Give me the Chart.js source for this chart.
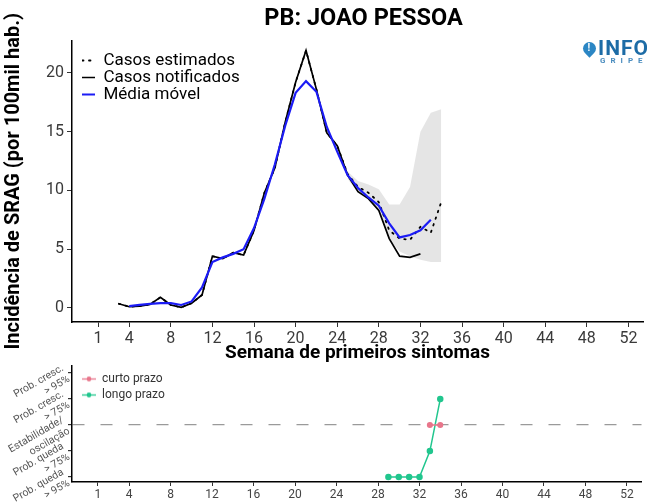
<!DOCTYPE html>
<html>
<head>
<meta charset="utf-8">
<script src="https://cdn.jsdelivr.net/npm/chart.js@4.4.0/dist/chart.umd.min.js"></script>
<style>
  html, body { margin: 0; padding: 0; background: #fff; overflow: hidden; }
  #wrap { position: relative; width: 647px; height: 504px; overflow: hidden; }
  #topChart { position: absolute; left: 0; top: 0; }
  #bottomChart { position: absolute; left: 0; top: 350px; }
  #logo { position: absolute; left: 582px; top: 40px; width: 80px; height: 26px; font-family: Roboto, sans-serif; }
  #logo .pin { position: absolute; left: 1px; top: 2px; width: 13px; height: 13px; background: #2b86c4;
    border-radius: 50% 50% 50% 0; transform: rotate(-45deg); }
  #logo .pin span { position: absolute; left: 0; top: 0; width: 13px; text-align: center; color: #fff;
    font: bold 10px Roboto, sans-serif; transform: rotate(45deg); }
  #logo .info { position: absolute; left: 16px; top: -4px; font: bold 21px Roboto, sans-serif; color: #1d6ca6; letter-spacing: 1px; }
  #logo .gripe { position: absolute; left: 18px; top: 16px; font: bold 8px Roboto, sans-serif; color: #4b8dbf; letter-spacing: 5px; }
</style>
</head>
<body>
<div id="wrap">
  <canvas id="topChart" width="647" height="366"></canvas>
  <canvas id="bottomChart" width="647" height="154"></canvas>
  <div id="logo"><div class="pin"><span>!</span></div><div class="info">INFO</div><div class="gripe">GRIPE</div></div>
</div>
<script>
// semanas epidemiologicas e valores
const weeksNotif = [3, 4, 5, 6, 7, 8, 9, 10, 11, 12, 13, 14, 15, 16, 17, 18, 19, 20, 21, 22, 23, 24, 25, 26, 27, 28, 29, 30, 31, 32];
const casosNotificados = [0.35, 0.1, 0.15, 0.3, 0.9, 0.25, 0.05, 0.4, 1.1, 4.4, 4.2, 4.7, 4.5, 6.6, 9.8, 11.9, 15.8, 19.2, 21.9, 18.6, 14.9, 13.8, 11.3, 9.9, 9.3, 8.3, 5.9, 4.4, 4.3, 4.6];

const weeksEst = [3, 4, 5, 6, 7, 8, 9, 10, 11, 12, 13, 14, 15, 16, 17, 18, 19, 20, 21, 22, 23, 24, 25, 26, 27, 28, 29, 30, 31, 32, 33, 34];
const casosEstimados = [0.35, 0.1, 0.15, 0.3, 0.9, 0.25, 0.05, 0.4, 1.1, 4.4, 4.2, 4.7, 4.5, 6.6, 9.8, 11.9, 15.8, 19.2, 21.9, 18.6, 14.9, 13.8, 11.4, 10.3, 9.8, 9.0, 6.6, 5.9, 5.8, 6.9, 6.4, 9.0];

const weeksMedia = [4, 5, 6, 7, 8, 9, 10, 11, 12, 13, 14, 15, 16, 17, 18, 19, 20, 21, 22, 23, 24, 25, 26, 27, 28, 29, 30, 31, 32, 33];
const mediaMovel = [0.15, 0.25, 0.35, 0.4, 0.4, 0.25, 0.55, 1.75, 3.9, 4.3, 4.6, 5.0, 6.8, 9.3, 12.2, 15.5, 18.3, 19.3, 18.4, 15.4, 13.3, 11.3, 10.2, 9.4, 8.7, 7.2, 6.0, 6.2, 6.6, 7.5];

const weeksIC = [25, 26, 27, 28, 29, 30, 31, 32, 33, 34];
const icInferior = [11.0, 9.8, 9.2, 8.2, 5.8, 4.8, 4.4, 4.1, 3.9, 3.9];
const icSuperior = [11.6, 10.8, 10.5, 10.1, 8.8, 8.8, 10.3, 15.0, 16.6, 16.9];

const weekTicks = [1, 4, 8, 12, 16, 20, 24, 28, 32, 36, 40, 44, 48, 52];
const incTicks = [0, 5, 10, 15, 20];

const levelTicks = [1, 2, 3, 4, 5];
const levelLabels = [
  ['Prob. queda', '> 95%'],
  ['Prob. queda', '> 75%'],
  ['Estabilidade/', 'oscilação'],
  ['Prob. cresc.', '> 75%'],
  ['Prob. cresc.', '> 95%']
];
const stableLevel = 3;
const weeksCurto = [33, 34];
const curtoPrazo = [3, 3];
const weeksLongo = [29, 30, 31, 32, 33, 34];
const longoPrazo = [1, 1, 1, 1, 2, 4];

const X_MIN = -1.5, X_MAX = 53.4;

Chart.defaults.font.family = 'Roboto';
Chart.defaults.animation = false;

function pairs(xs, ys) {
  return xs.map((x, i) => ({ x: x, y: ys[i] }));
}

function fixTicks(list) {
  return function (scale) {
    scale.ticks = list.map(v => ({ value: v }));
  };
}

// coloca legenda e titulo onde estao no original
const placeBoxes = {
  id: 'placeBoxes',
  afterLayout(chart, args, opts) {
    if (chart.legend && opts.legendLeft !== undefined) {
      chart.legend.left = opts.legendLeft;
      chart.legend.top = opts.legendTop;
    }
    if (chart.titleBlock && opts.titleLeft !== undefined) {
      chart.titleBlock.left = opts.titleLeft;
      chart.titleBlock.right = chart.chartArea.right;
    }
  }
};

function topchart() {
  const data = {
    datasets: [
      {
        label: 'Casos estimados',
        data: pairs(weeksEst, casosEstimados),
        borderColor: '#000',
        borderWidth: 1.8,
        borderDash: [1.5, 5.5],
        borderCapStyle: 'round',
        pointRadius: 0,
        order: 2
      },
      {
        label: 'Casos notificados',
        data: pairs(weeksNotif, casosNotificados),
        borderColor: '#000',
        borderWidth: 1.7,
        pointRadius: 0,
        order: 1
      },
      {
        label: 'Média móvel',
        data: pairs(weeksMedia, mediaMovel),
        borderColor: '#1c1cf5',
        borderWidth: 2.2,
        pointRadius: 0,
        order: 0
      },
      {
        label: 'ic_inf',
        data: pairs(weeksIC, icInferior),
        borderWidth: 0,
        pointRadius: 0,
        fill: false,
        order: 3
      },
      {
        label: 'ic_sup',
        data: pairs(weeksIC, icSuperior),
        borderWidth: 0,
        pointRadius: 0,
        fill: '-1',
        backgroundColor: 'rgba(175, 175, 175, 0.32)',
        order: 4
      }
    ]
  };

  const config = {
    type: 'line',
    data: data,
    options: {
      responsive: false,
      layout: { padding: { left: 0, right: 4, top: 0, bottom: 0 } },
      plugins: {
        title: {
          display: true,
          text: 'PB: JOAO PESSOA',
          color: '#000',
          font: { size: 23.5, weight: 'bold' },
          padding: { top: 5, bottom: 7.4 }
        },
        legend: {
          position: 'chartArea',
          align: 'start',
          labels: {
            usePointStyle: true,
            pointStyle: 'line',
            pointStyleWidth: 13,
            padding: 0,
            color: '#000',
            font: { size: 17 },
            sort: (a, b) => a.datasetIndex - b.datasetIndex,
            generateLabels: function (chart) {
              const items = Chart.defaults.plugins.legend.labels.generateLabels(chart);
              return items.filter(it => it.datasetIndex < 3).map(it => {
                const ds = chart.data.datasets[it.datasetIndex];
                return Object.assign(it, {
                  lineDash: ds.borderDash || [],
                  lineCap: ds.borderCapStyle || 'butt',
                  lineWidth: ds.borderWidth,
                  strokeStyle: ds.borderColor
                });
              });
            }
          }
        },
        placeBoxes: { legendLeft: 82, legendTop: 52, titleLeft: 84 },
        tooltip: { enabled: false }
      },
      scales: {
        x: {
          type: 'linear',
          min: X_MIN,
          max: X_MAX,
          afterBuildTicks: fixTicks(weekTicks),
          afterFit: function (scale) { scale.height = 44; },
          grid: { drawOnChartArea: false, tickLength: 5, color: '#333' },
          border: { color: '#000', width: 1.5 },
          ticks: { autoSkip: false, maxRotation: 0, padding: 2, color: '#3a3a3a', font: { size: 16 } },
          title: {
            display: true,
            text: 'Semana de primeiros sintomas',
            color: '#000',
            font: { size: 19, weight: 'bold' },
            padding: { top: 0, bottom: 1 }
          }
        },
        y: {
          min: -1.2,
          max: 22.75,
          afterBuildTicks: fixTicks(incTicks),
          afterFit: function (scale) { scale.width = 72; },
          grid: { drawOnChartArea: false, tickLength: 5, color: '#333' },
          border: { color: '#000', width: 1.5 },
          ticks: { padding: 3, color: '#3a3a3a', font: { size: 16 } },
          title: {
            display: true,
            text: 'Incidência de SRAG (por 100mil hab.)',
            color: '#000',
            font: { size: 20, weight: 'bold' },
            padding: { top: 2, bottom: 0 }
          }
        }
      }
    },
    plugins: [placeBoxes]
  };

  new Chart(document.getElementById('topChart'), config);
}

function keySymbol(color) {
  const c = document.createElement('canvas');
  c.width = 14;
  c.height = 7;
  const ctx = c.getContext('2d');
  ctx.strokeStyle = color;
  ctx.lineWidth = 1.3;
  ctx.beginPath();
  ctx.moveTo(0, 3.5);
  ctx.lineTo(14, 3.5);
  ctx.stroke();
  ctx.fillStyle = color;
  ctx.beginPath();
  ctx.arc(7, 3.5, 2.4, 0, Math.PI * 2);
  ctx.fill();
  return c;
}

function bottomchart() {
  const colors = ['#e8768b', '#21c68e'];
  const keys = colors.map(keySymbol);

  const data = {
    datasets: [
      {
        label: 'curto prazo',
        data: pairs(weeksCurto, curtoPrazo),
        borderColor: colors[0],
        backgroundColor: colors[0],
        borderWidth: 1.5,
        pointRadius: 2.3,
        order: 0
      },
      {
        label: 'longo prazo',
        data: pairs(weeksLongo, longoPrazo),
        borderColor: colors[1],
        backgroundColor: colors[1],
        borderWidth: 1.5,
        pointRadius: 2.5,
        order: 1
      }
    ]
  };

  const config = {
    type: 'line',
    data: data,
    options: {
      responsive: false,
      layout: { padding: { left: 0, right: 4, top: 16, bottom: 0 } },
      plugins: {
        legend: {
          position: 'chartArea',
          align: 'start',
          labels: {
            usePointStyle: true,
            pointStyleWidth: 14,
            boxHeight: 7,
            padding: 4,
            color: '#333',
            font: { size: 12 },
            sort: (a, b) => a.datasetIndex - b.datasetIndex,
            generateLabels: function (chart) {
              const items = Chart.defaults.plugins.legend.labels.generateLabels(chart);
              return items.map(it => Object.assign(it, { pointStyle: keys[it.datasetIndex] }));
            }
          }
        },
        placeBoxes: { legendLeft: 78, legendTop: 19 },
        tooltip: { enabled: false }
      },
      scales: {
        x: {
          type: 'linear',
          min: X_MIN,
          max: X_MAX,
          afterBuildTicks: fixTicks(weekTicks),
          afterFit: function (scale) { scale.height = 22; },
          grid: { drawOnChartArea: false, tickLength: 4, color: '#333' },
          border: { color: '#000', width: 1.5 },
          ticks: { autoSkip: false, maxRotation: 0, padding: 2, color: '#444', font: { size: 12 } }
        },
        y: {
          min: 0.81,
          max: 5.27,
          afterBuildTicks: fixTicks(levelTicks),
          afterFit: function (scale) { scale.width = 72; },
          grid: {
            color: ctx => (ctx.tick && ctx.tick.value === stableLevel) ? '#9a9a9a' : 'rgba(0,0,0,0)',
            lineWidth: 1.2,
            tickColor: '#333',
            tickLength: 4,
            tickBorderDash: []
          },
          border: { color: '#000', width: 1.5, dash: [12, 16] },
          ticks: {
            autoSkip: false,
            minRotation: 30,
            maxRotation: 30,
            padding: 2,
            color: '#555',
            font: { size: 10.5 },
            callback: v => levelLabels[levelTicks.indexOf(v)]
          }
        }
      }
    },
    plugins: [placeBoxes]
  };

  new Chart(document.getElementById('bottomChart'), config);
}

topchart();
bottomchart();
</script>
</body>
</html>
